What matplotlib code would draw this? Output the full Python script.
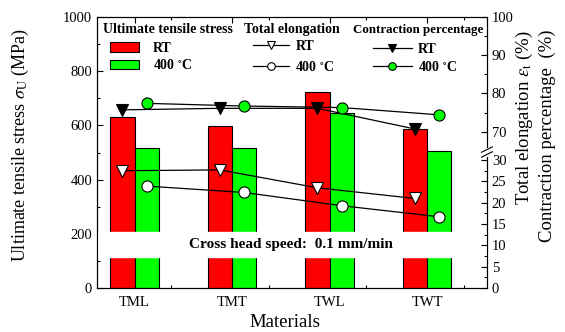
import numpy as np
import matplotlib.pyplot as plt
from matplotlib.patches import Patch
from matplotlib.lines import Line2D
from matplotlib.ticker import FixedLocator, MultipleLocator

plt.rcParams['font.family'] = 'Liberation Serif'
plt.rcParams['mathtext.fontset'] = 'stix'

# tensile test results
materials = ['TML', 'TMT', 'TWL', 'TWT']
uts_rt = [630, 598, 725, 586]        # MPa
uts_400 = [516, 516, 646, 506]       # MPa
elong_rt = [27.5, 27.7, 23.5, 21.0]  # %
elong_400 = [23.9, 22.4, 19.3, 16.7] # %
contr_rt = [75.7, 76.1, 76.1, 70.7]  # %
contr_400 = [77.4, 76.7, 76.3, 74.4] # %

x = np.arange(1, len(materials) + 1)
w = 0.25

# broken right axis: 0-30 and 70-100 share one axis
brk_val = [0, 30, 70, 100]
brk_pos = [0, 472, 577, 1000]
def fwd(v):
    return np.interp(v, brk_val, brk_pos)
def inv(p):
    return np.interp(p, brk_pos, brk_val)

fig = plt.figure(figsize=(5.65, 3.32), dpi=100)
ax = fig.add_axes([97/565, 1 - 288/332, 390/565, 271/332])

ax.bar(x - w/2, uts_rt, w, color='#ff0000', edgecolor='k', lw=0.8, zorder=2)
ax.bar(x + w/2, uts_400, w, color='#00ff00', edgecolor='k', lw=0.8, zorder=2)
ax.axhspan(113, 208, color='white', zorder=3)
ax.text(2.6, 162, 'Cross head speed:  0.1 mm/min', fontsize=11, fontweight='bold',
        ha='center', va='center', zorder=4)

ax.set_xlim(0.615, 4.615)
ax.set_ylim(0, 1000)
ax.set_xticks(x)
ax.set_xticklabels(materials, fontsize=10.5)
ax.xaxis.set_minor_locator(FixedLocator(x + 0.375))
ax.yaxis.set_major_locator(MultipleLocator(200))
ax.yaxis.set_minor_locator(MultipleLocator(100))
ax.tick_params(which='both', direction='in', top=True, right=False, labelsize=10.5)
ax.tick_params(axis='x', pad=6)
ax.tick_params(which='major', length=4, width=0.8)
ax.tick_params(which='minor', length=2.5, width=0.8)
ax.set_xlabel('Materials', fontsize=13.5)
ax.xaxis.set_label_coords(0.481, -0.096)

fig.text(20/565, 1 - 145/332, r'Ultimate tensile stress $\sigma_{\rm U}$ (MPa)',
         rotation=90, ha='center', va='center', fontsize=13)

ax2 = ax.twinx()
ax2.set_yscale('function', functions=(fwd, inv))
ax2.set_ylim(0, 100)
ax2.plot(x - w/2, elong_rt, '-', color='k', lw=0.9, marker='v', ms=9,
         mfc='white', mec='k', mew=0.8)
ax2.plot(x + w/2, elong_400, '-', color='k', lw=0.9, marker='o', ms=8,
         mfc='white', mec='k', mew=0.8)
ax2.plot(x - w/2, contr_rt, '-', color='k', lw=0.9, marker='v', ms=9,
         mfc='k', mec='k', mew=0.8)
ax2.plot(x + w/2, contr_400, '-', color='k', lw=0.9, marker='o', ms=8,
         mfc='#00ff00', mec='k', mew=0.8)
ax2.yaxis.set_major_locator(FixedLocator([0, 5, 10, 15, 20, 25, 30, 70, 80, 90, 100]))
ax2.yaxis.set_minor_locator(FixedLocator([2.5, 7.5, 12.5, 17.5, 22.5, 27.5, 75, 85, 95]))
ax2.tick_params(which='both', direction='in', labelsize=10.5)
ax2.tick_params(which='major', length=4, width=0.8)
ax2.tick_params(which='minor', length=2.5, width=0.8)

# break marks on the right spine
yb = (288 - 152) / 271
ax2.plot([1, 1], [yb - 0.012, yb + 0.012], color='white', lw=2,
         transform=ax2.transAxes, clip_on=False, zorder=5)
for dy in (-0.009, 0.009):
    ax2.plot([1 - 0.014, 1 + 0.014], [yb + dy - 0.01, yb + dy + 0.01], color='k',
             lw=0.8, transform=ax2.transAxes, clip_on=False, zorder=6)

fig.text(535/565, 1 - 30/332,
         'Total elongation $\\varepsilon_{\\rm t}$ (%)\nContraction percentage  (%)',
         rotation=90, ha='center', va='top', multialignment='right',
         fontsize=13.5, linespacing=1.25)

# legend group titles
ty = (288 - 29.5) / 271
for tx, title, fs in [(103, 'Ultimate tensile stress', 10), (244, 'Total elongation', 10),
                      (353, 'Contraction percentage', 9.3)]:
    ax2.text((tx - 97) / 390, ty, title, transform=ax2.transAxes, fontsize=fs,
             fontweight='bold', ha='left', va='center')

leg_kw = dict(frameon=False, borderpad=0, borderaxespad=0, loc='center left',
              prop={'weight': 'bold', 'size': 10})
h1 = [Patch(facecolor='#ff0000', edgecolor='k', lw=0.8),
      Patch(facecolor='#00ff00', edgecolor='k', lw=0.8)]
l1 = ax2.legend(h1, ['RT', '400 $^{\\circ}$C'], bbox_to_anchor=(13/390, (288 - 57)/271),
                handlelength=2.1, handletextpad=1.0, labelspacing=0.25, **leg_kw)
ax2.add_artist(l1)

h2 = [Line2D([], [], color='k', lw=0.9, marker='v', ms=6, mfc='white', mec='k', mew=0.8),
      Line2D([], [], color='k', lw=0.9, marker='o', ms=5.5, mfc='white', mec='k', mew=0.8)]
l2 = ax2.legend(h2, ['RT', '400 $^{\\circ}$C'], bbox_to_anchor=(156/390, (288 - 57)/271),
                handlelength=2.6, handletextpad=0.45, labelspacing=0.47, **leg_kw)
ax2.add_artist(l2)

h3 = [Line2D([], [], color='k', lw=0.9, marker='v', ms=6, mfc='k', mec='k', mew=0.8),
      Line2D([], [], color='k', lw=0.9, marker='o', ms=5.5, mfc='#00ff00', mec='k', mew=0.8)]
l3 = ax2.legend(h3, ['RT', '400 $^{\\circ}$C'], bbox_to_anchor=(276/390, (288 - 58.5)/271),
                handlelength=2.8, handletextpad=0.45, labelspacing=0.32, **leg_kw)

fig.savefig('out.png', dpi=100)
